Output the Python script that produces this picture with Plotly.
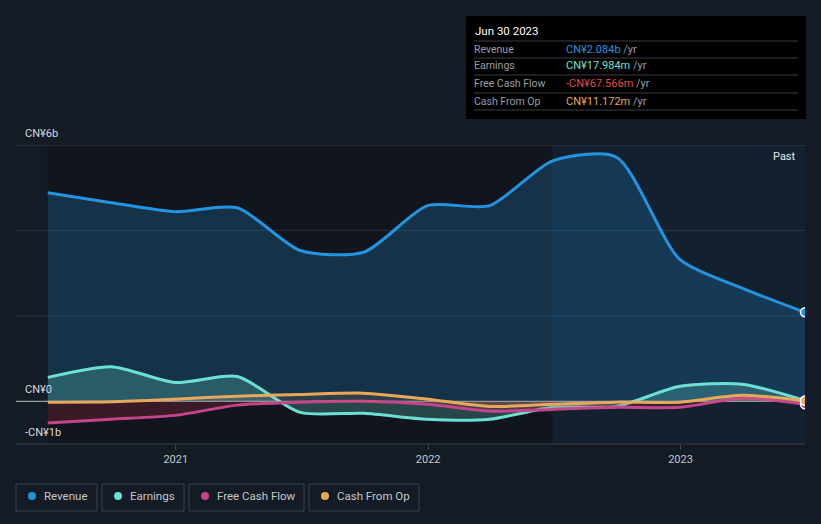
import plotly.graph_objects as go

dates = ["2020-06-30", "2020-09-30", "2020-12-31", "2021-03-31", "2021-06-30", "2021-09-30",
         "2021-12-31", "2022-03-31", "2022-06-30", "2022-09-30", "2022-12-31", "2023-03-31",
         "2023-06-30"]
revenue = [4.88, 4.65, 4.44, 4.53, 3.53, 3.49, 4.58, 4.58, 5.63, 5.72, 3.32, 2.65, 2.084]
earnings = [0.56, 0.81, 0.44, 0.58, -0.26, -0.28, -0.42, -0.42, -0.14, -0.12, 0.35, 0.40, 0.018]
free_cash_flow = [-0.51, -0.42, -0.33, -0.09, -0.02, 0.0, -0.07, -0.23, -0.19, -0.14, -0.14, 0.07, -0.068]
cash_from_op = [-0.02, -0.01, 0.05, 0.12, 0.16, 0.19, 0.05, -0.12, -0.07, -0.02, -0.02, 0.14, 0.011]

names = ["Revenue", "Earnings", "Free Cash Flow", "Cash From Op"]
colors = ["#2394df", "#6de0d4", "#c5458a", "#e8a85a"]
fills = ["rgba(35,148,223,0.22)", "rgba(109,224,212,0.24)", "rgba(200,40,70,0.22)", "rgba(232,168,90,0.12)"]
tooltip_values = ["CN¥2.084b", "CN¥17.984m", "-CN¥67.566m", "CN¥11.172m"]
tooltip_colors = ["#2394df", "#6de0d4", "#e24b4b", "#e8a85a"]
y_labels = ["CN¥6b", "CN¥0", "-CN¥1b"]
y_label_vals = [6, 0, -1]
x_ticks = ["2021-01-01", "2022-01-01", "2023-01-01"]
x_tick_text = ["2021", "2022", "2023"]

W, H = 821, 524
L, R, T, B = 16, 805, 145, 444
BG = "#151b24"

def px(x):
    return (x - L) / (R - L)

def py(y):
    return (B - y) / (B - T)

fig = go.Figure()
series = [revenue, earnings, free_cash_flow, cash_from_op]
for name, vals, c, f in zip(names, series, colors, fills):
    fig.add_trace(go.Scatter(
        x=dates, y=vals, name=name, mode="lines",
        line=dict(color=c, width=3, shape="spline", smoothing=0.7),
        fill="tozeroy", fillcolor=f, hoverinfo="skip", showlegend=False))
for name, vals, c in zip(names, series, colors):
    fig.add_trace(go.Scatter(
        x=[dates[-1]], y=[vals[-1]], mode="markers",
        marker=dict(color=c, size=9, line=dict(color="white", width=1.5)),
        hoverinfo="skip", showlegend=False))

shapes = []
shapes.append(dict(type="rect", xref="x", yref="paper", x0=dates[0], x1=dates[8], y0=0, y1=1,
                   fillcolor="#11161e", line_width=0, layer="below"))
shapes.append(dict(type="rect", xref="x", yref="paper", x0=dates[8], x1=dates[-1], y0=0, y1=1,
                   fillcolor="#13212f", line_width=0, layer="below"))
shapes.append(dict(type="line", xref="paper", yref="y", x0=0, x1=1, y0=6, y1=6,
                   line=dict(color="#3a404a", width=1), layer="below"))
for gv in [4, 2]:
    shapes.append(dict(type="line", xref="paper", yref="y", x0=0, x1=1, y0=gv, y1=gv,
                       line=dict(color="rgba(80,100,120,0.35)", width=1), layer="below"))
shapes.append(dict(type="line", xref="paper", yref="y", x0=0, x1=1, y0=0, y1=0,
                   line=dict(color="rgba(230,230,235,0.8)", width=1), layer="below"))
shapes.append(dict(type="line", xref="paper", yref="paper", x0=0, x1=1, y0=0, y1=0,
                   line=dict(color="#3a404a", width=1)))

annotations = []
for t, v in zip(y_labels, y_label_vals):
    annotations.append(dict(xref="paper", yref="y", x=px(23), y=v, text=t, showarrow=False,
                            xanchor="left", yanchor="bottom", yshift=3,
                            font=dict(color="#d7dbe0", size=11)))
annotations.append(dict(xref="paper", yref="paper", x=px(798), y=py(156), text="Past",
                        showarrow=False, xanchor="right", yanchor="middle",
                        font=dict(color="#e6e8eb", size=11)))

shapes.append(dict(type="rect", xref="paper", yref="paper", x0=px(466), x1=px(806), y0=py(119), y1=py(16),
                   fillcolor="#000000", line_width=0))
annotations.append(dict(xref="paper", yref="paper", x=px(473), y=py(31), text="Jun 30 2023",
                        showarrow=False, xanchor="left", yanchor="middle",
                        font=dict(color="#ffffff", size=11.5)))
row_y = [49, 66, 84, 101]
for yy in [41, 58, 75, 93, 110]:
    shapes.append(dict(type="line", xref="paper", yref="paper", x0=px(474), x1=px(798), y0=py(yy), y1=py(yy),
                       line=dict(color="#3a3d42", width=1)))
for n, v, c, yy in zip(names, tooltip_values, tooltip_colors, row_y):
    annotations.append(dict(xref="paper", yref="paper", x=px(472), y=py(yy), text=n, showarrow=False,
                            xanchor="left", yanchor="middle", font=dict(color="#9a9ea5", size=10.5)))
    annotations.append(dict(xref="paper", yref="paper", x=px(564), y=py(yy),
                            text=f"<span style='color:{c}'>{v}</span> <span style='color:#9a9ea5'>/yr</span>",
                            showarrow=False, xanchor="left", yanchor="middle", font=dict(size=11)))

boxes = [(16, 97, 32), (102, 184, 118), (189, 304, 205), (309, 419, 325)]
for (x0, x1, dx), n, c in zip(boxes, names, colors):
    shapes.append(dict(type="rect", xref="paper", yref="paper", x0=px(x0), x1=px(x1), y0=py(511), y1=py(484),
                       fillcolor="rgba(0,0,0,0)", line=dict(color="#3c414a", width=1)))
    shapes.append(dict(type="circle", xref="paper", yref="paper", x0=px(dx - 4), x1=px(dx + 4),
                       y0=py(500), y1=py(492), fillcolor=c, line_width=0))
    annotations.append(dict(xref="paper", yref="paper", x=px(dx + 10), y=py(496), text=n, showarrow=False,
                            xanchor="left", yanchor="middle", font=dict(color="#c3c7cd", size=11.5)))

fig.update_layout(
    width=W, height=H,
    margin=dict(l=L, r=W - R, t=T, b=H - B),
    paper_bgcolor=BG, plot_bgcolor=BG,
    font=dict(family="Roboto, 'Open Sans', sans-serif", color="#c3c7cd"),
    shapes=shapes, annotations=annotations, showlegend=False,
    xaxis=dict(range=["2020-05-15", "2023-06-30"], showgrid=False, zeroline=False,
               tickvals=x_ticks, ticktext=x_tick_text, ticks="outside", ticklen=5,
               tickcolor="#3a404a", tickfont=dict(color="#c3c7cd", size=11), showline=False),
    yaxis=dict(range=[-1, 6], showgrid=False, zeroline=False, showticklabels=False),
)
fig.write_html("out.html", config={"displayModeBar": False, "staticPlot": True},
               post_script="document.body.style.margin='0';document.body.style.background='#151b24';document.body.style.overflow='hidden';")
